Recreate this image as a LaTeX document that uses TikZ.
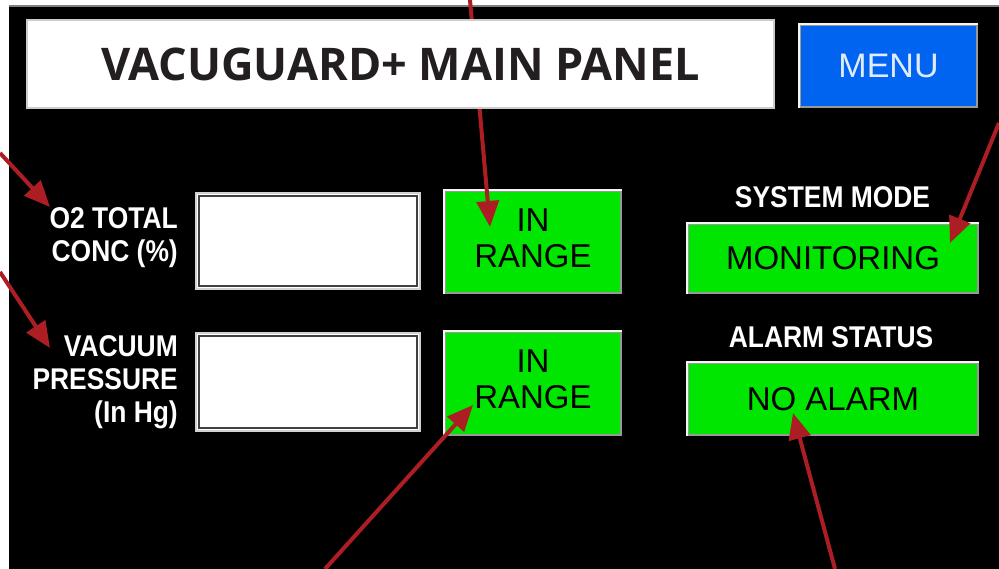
\documentclass[tikz,border=0pt]{standalone}
\usepackage{fontspec}
\setmainfont{Liberation Sans}
\newfontfamily\titlefont{Open Sans}
\newfontfamily\hmifont{Liberation Sans}[FakeStretch=0.88]
\usepackage{tikz}
\usetikzlibrary{arrows.meta,positioning}
\definecolor{hmigreen}{RGB}{0,230,0}
\definecolor{hmiblue}{RGB}{0,100,240}
\definecolor{menutext}{RGB}{225,235,255}
\definecolor{arrowred}{RGB}{172,30,36}
\definecolor{titlegray}{RGB}{35,31,32}
\tikzstyle{greenbox}=[draw=gray!80,line width=1.5pt,fill=hmigreen,font=\fontsize{33}{36}\selectfont,align=center,inner sep=0pt]
\tikzstyle{rangetext}=[font=\fontsize{33}{36}\selectfont,align=center,inner sep=0pt,yshift=4pt]
\tikzstyle{inputbox}=[draw=gray!35,line width=2pt,fill=white,inner sep=0pt,minimum width=224,minimum height=96]
\tikzstyle{panellabel}=[text=white,font=\hmifont\bfseries\fontsize{30}{33}\selectfont,inner sep=0pt]
\tikzstyle{lighttop}=[draw=gray!8,line width=2pt]
\tikzstyle{pointer}=[arrowred,line width=4pt,-{Triangle[length=26pt,width=22pt]}]
\begin{document}
\begin{tikzpicture}[x=1pt,y=-1pt]
\useasboundingbox (0,0) rectangle (999,569);
% black screen
\fill[black] (9,6) rectangle (999,569);
\draw[gray,line width=2pt] (9,6)--(999,6);
% menu button
\node[draw=gray!80,line width=1.5pt,fill=hmiblue,minimum width=177,minimum height=82,text=menutext,font=\fontsize{34}{36}\selectfont] (menu) at (888.5,66) {MENU};
\draw[lighttop] (menu.south west)--(menu.north west)--(menu.north east);
% o2 row
\node[panellabel,anchor=east,align=right] (o2lbl) at (178,238) {O2 TOTAL\\CONC (\%)};
\node[inputbox] (o2box) at (308,241) {};
\draw[darkgray,line width=2pt] ([shift={(4,4)}]o2box.north west) rectangle ([shift={(-4,-4)}]o2box.south east);
\node[greenbox,minimum width=176,minimum height=102] (o2range) at (533,242) {};
\draw[lighttop] (o2range.south west)--(o2range.north west)--(o2range.north east);
\node[rangetext] (o2rangetxt) at (o2range) {IN\\RANGE};
% vacuum row
\node[panellabel,anchor=east,align=right] (vaclbl) at (178,382) {VACUUM\\PRESSURE\\(In Hg)};
\node[inputbox,minimum height=98] (vacbox) at (308,382) {};
\draw[darkgray,line width=2pt] ([shift={(4,4)}]vacbox.north west) rectangle ([shift={(-4,-4)}]vacbox.south east);
\node[greenbox,minimum width=176,minimum height=103] (vacrange) at (533,383.5) {};
\draw[lighttop] (vacrange.south west)--(vacrange.north west)--(vacrange.north east);
\node[rangetext] (vacrangetxt) at (vacrange) {IN\\RANGE};
% system mode and alarm status
\node[panellabel] (modelbl) at (832.5,197) {SYSTEM MODE};
\node[greenbox,minimum width=290,minimum height=69] (mode) at (833,258.5) {MONITORING};
\draw[lighttop] (mode.south west)--(mode.north west)--(mode.north east);
\node[panellabel] (alarmlbl) at (831,337.5) {ALARM STATUS};
\node[greenbox,minimum width=290,minimum height=72] (alarm) at (833,399) {NO ALARM};
\draw[lighttop] (alarm.south west)--(alarm.north west)--(alarm.north east);
% call-out arrows
\coordinate (o2rangetail) at (470,0); \coordinate (o2rangetip) at (490,227);
\coordinate (modetail) at (999,123); \coordinate (modetip) at (950,243);
\coordinate (o2tail) at (0,153); \coordinate (o2tip) at (50,207);
\coordinate (vactail) at (0,272); \coordinate (vactip) at (50,348);
\coordinate (vacrangetail) at (325,569); \coordinate (vacrangetip) at (473,405);
\coordinate (alarmtail) at (835,569); \coordinate (alarmtip) at (793,413);
\draw[pointer] (o2rangetail)--(o2rangetip);
\draw[pointer] (modetail)--(modetip);
\draw[pointer] (o2tail)--(o2tip);
\draw[pointer] (vactail)--(vactip);
\draw[pointer] (vacrangetail)--(vacrangetip);
\draw[pointer] (alarmtail)--(alarmtip);
% title bar (over the top arrow)
\node[draw=gray!40,line width=1.5pt,fill=white,minimum width=747,minimum height=88,text=titlegray,font=\titlefont\bfseries\fontsize{45}{48}\selectfont] (title) at (400.5,64) {VACUGUARD+ MAIN PANEL};
\end{tikzpicture}
\end{document}
